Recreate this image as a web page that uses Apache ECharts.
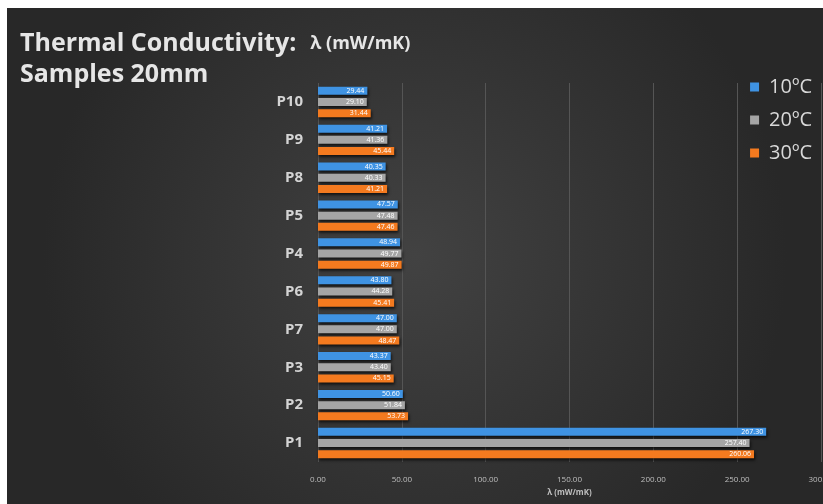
<!DOCTYPE html>
<html><head><meta charset="utf-8">
<script src="https://cdn.jsdelivr.net/npm/echarts@6/dist/echarts.min.js"></script>
<style>html,body{margin:0;padding:0;background:#fff;width:823px;height:504px;overflow:hidden}
#c{position:absolute;left:7px;top:8px;width:816px;height:496px}</style></head>
<body><div id="c"></div>
<script>
const categories = ['P1','P2','P3','P7','P6','P4','P5','P8','P9','P10'];
const seriesNames = ['10ºC','20ºC','30ºC'];
const v10 = [267.30, 50.60, 43.37, 47.00, 43.80, 48.94, 47.57, 40.35, 41.21, 29.44];
const v20 = [257.40, 51.84, 43.40, 47.00, 44.28, 49.77, 47.48, 40.33, 41.36, 29.10];
const v30 = [260.06, 53.73, 45.15, 48.47, 45.41, 49.87, 47.46, 41.21, 45.44, 31.44];
const xTicks = [0, 50, 100, 150, 200, 250, 300];
const colors = ['#3f93e3', '#a5a5a5', '#f47a1f'];

const chart = echarts.init(document.getElementById('c'));
function mk(name, data, color) {
  return {
    name, type: 'bar', data,
    barWidth: 8, barGap: '40%',
    itemStyle: { color, shadowColor: 'rgba(0,0,0,0.7)', shadowBlur: 3, shadowOffsetX: 1, shadowOffsetY: 2 },
    label: { show: true, position: 'insideRight', color: '#fff', fontSize: 7, distance: 3,
      formatter: p => p.value.toFixed(2) }
  };
}
chart.setOption({
  animation: false,
  backgroundColor: { type: 'radial', x: 0.5, y: 0.5, r: 0.75,
    colorStops: [{ offset: 0, color: '#424242' }, { offset: 1, color: '#282828' }] },
  textStyle: { fontFamily: 'Open Sans' },
  title: {
    left: 8, top: 15,
    text: '{a|Thermal Conductivity:}   {b|λ (mW/mK)}\n{a|Samples 20mm}',
    textStyle: {
      rich: {
        a: { fontSize: 25, fontWeight: 'bold', color: '#e6e6e6', fontFamily: 'Open Sans', lineHeight: 31 },
        b: { fontSize: 18, fontWeight: 'bold', color: '#e6e6e6', fontFamily: 'Open Sans', lineHeight: 31 }
      }
    }
  },
  legend: {
    data: seriesNames, orient: 'vertical', right: 6, top: 64,
    itemWidth: 9, itemHeight: 9, itemGap: 13, icon: 'rect',
    textStyle: { color: '#d9d9d9', fontSize: 20, fontFamily: 'Open Sans', padding: [0, 0, 0, 5] }
  },
  grid: { left: 311, right: 2, top: 75, bottom: 42, containLabel: false, outerBoundsMode: 'none' },
  xAxis: {
    type: 'value', min: 0, max: 300, interval: 50,
    name: 'λ (mW/mK)', nameLocation: 'middle', nameGap: 27,
    nameTextStyle: { color: '#bfbfbf', fontSize: 8, fontWeight: 'bold' },
    axisLabel: { color: '#bfbfbf', fontSize: 8, margin: 14,
      formatter: v => xTicks.includes(v) ? v.toFixed(2) : '' },
    axisLine: { show: false }, axisTick: { show: false },
    splitLine: { lineStyle: { color: '#555555', width: 1 } }
  },
  yAxis: {
    type: 'category', data: categories,
    axisLabel: { color: '#d4d4d4', fontSize: 15, fontWeight: 'bold', margin: 15 },
    axisLine: { show: false }, axisTick: { show: false }
  },
  series: [mk(seriesNames[0], v10, colors[0]), mk(seriesNames[1], v20, colors[1]), mk(seriesNames[2], v30, colors[2])]
});
</script></body></html>
